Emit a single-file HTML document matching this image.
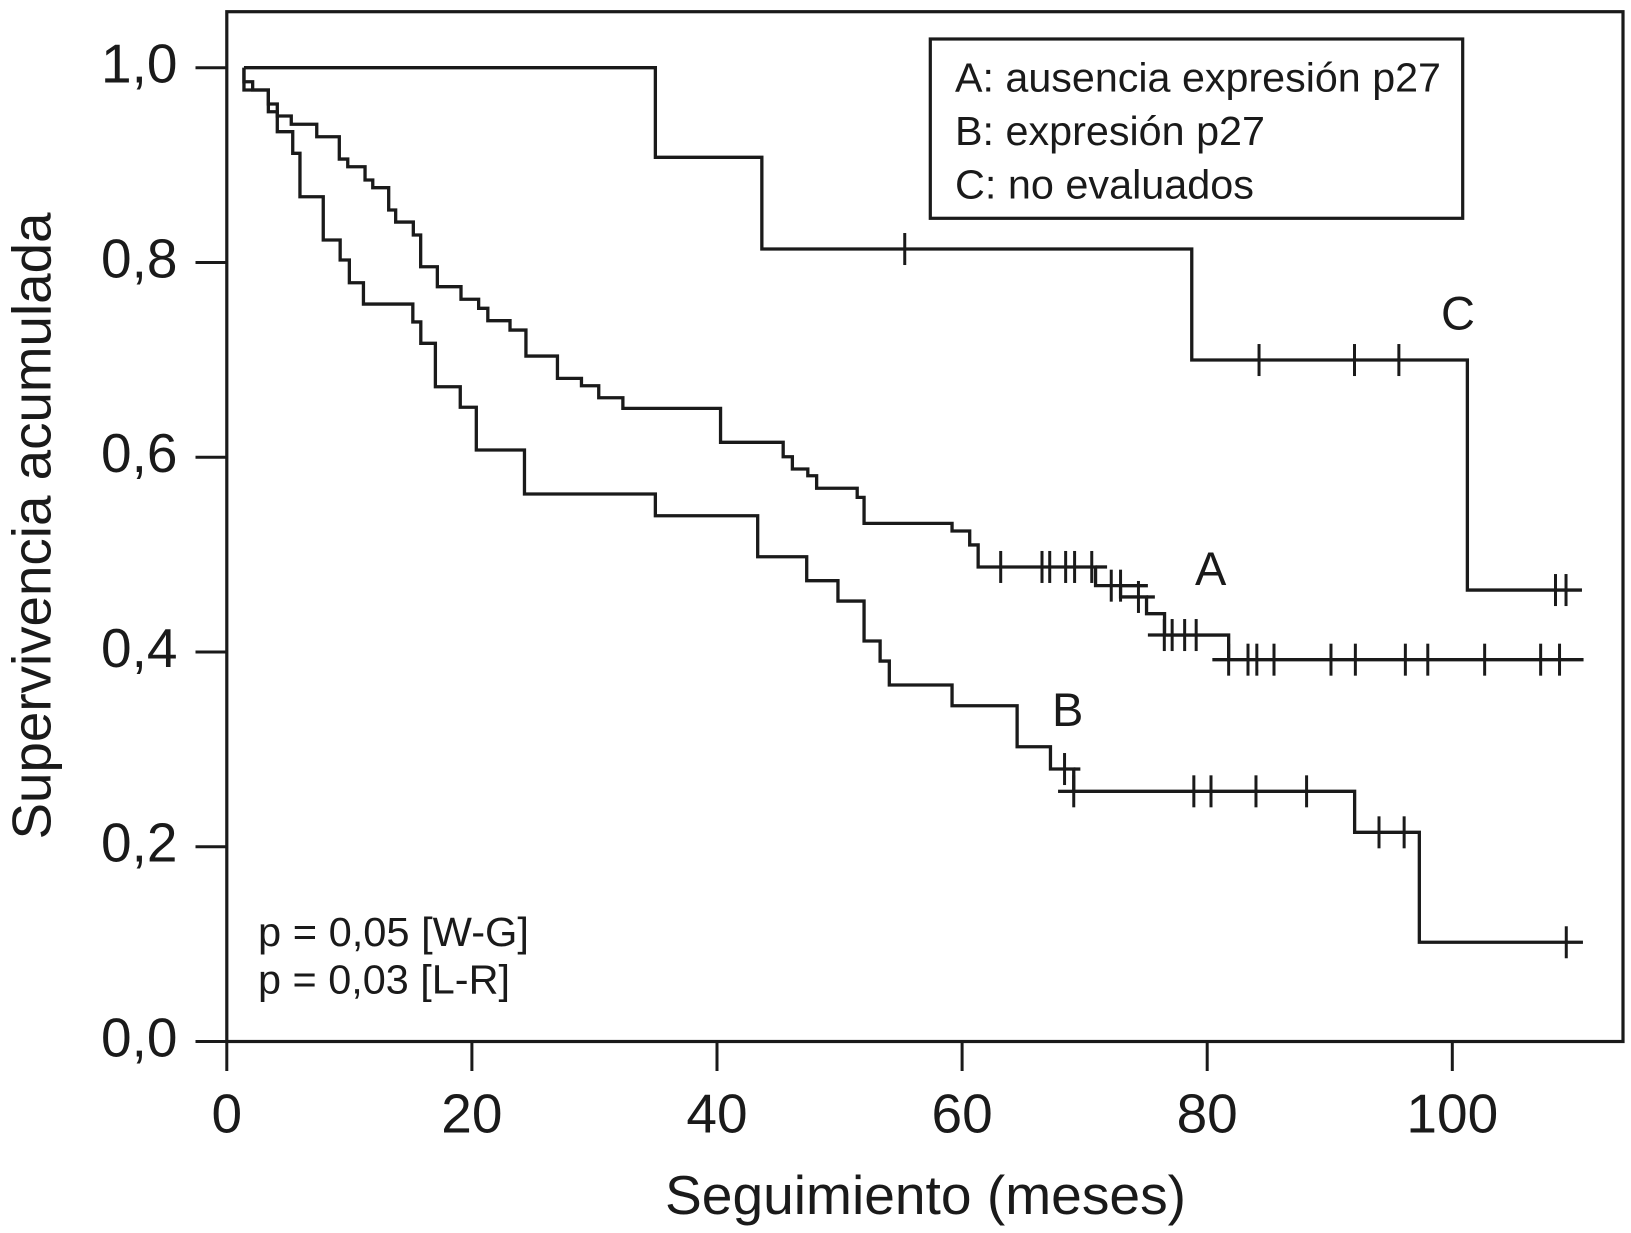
<!DOCTYPE html>
<html lang="es">
<head>
<meta charset="utf-8">
<title>Supervivencia acumulada</title>
<style>
html,body{margin:0;padding:0;background:#fff;}
svg{display:block;}
text{font-family:"Liberation Sans",Arial,sans-serif;fill:#1a1a1a;}
</style>
</head>
<body>
<svg id="chart" xmlns="http://www.w3.org/2000/svg" width="1631" height="1233" viewBox="0 0 1631 1233">
  <rect x="0" y="0" width="1631" height="1233" fill="#ffffff"/>
  <rect x="226.8" y="11.7" width="1396.2" height="1029.8" fill="none" stroke="#1a1a1a" stroke-width="3.2"/>
  <g id="axes"></g>
  <g id="series"></g>
  <text transform="translate(50.7,839.5) rotate(-90)" font-size="55" textLength="627" lengthAdjust="spacingAndGlyphs">Supervivencia acumulada</text>
  <text x="665" y="1214" font-size="55" textLength="521" lengthAdjust="spacingAndGlyphs">Seguimiento (meses)</text>
  <g>
    <rect x="930.3" y="39" width="532.4" height="179.3" fill="#fff" stroke="#1a1a1a" stroke-width="3.2"/>
    <text x="955" y="91.7" font-size="41" textLength="486" lengthAdjust="spacingAndGlyphs">A: ausencia expresión p27</text>
    <text x="955" y="145" font-size="41" textLength="310" lengthAdjust="spacingAndGlyphs">B: expresión p27</text>
    <text x="955" y="198.3" font-size="41" textLength="299" lengthAdjust="spacingAndGlyphs">C: no evaluados</text>
  </g>
  <text x="258" y="946" font-size="41" textLength="271" lengthAdjust="spacingAndGlyphs">p = 0,05 [W-G]</text>
  <text x="258" y="993.7" font-size="41" textLength="252" lengthAdjust="spacingAndGlyphs">p = 0,03 [L-R]</text>
  <text x="1195" y="585" font-size="47">A</text>
  <text x="1052" y="726" font-size="47">B</text>
  <text x="1441" y="329.3" font-size="47">C</text>
</svg>
<script>
// ---- chart data (months, cumulative survival) ----
const xTicks = [0, 20, 40, 60, 80, 100];
const yTicks = [0.0, 0.2, 0.4, 0.6, 0.8, 1.0];
const yTickLabels = ['0,0', '0,2', '0,4', '0,6', '0,8', '1,0'];

const timesA = [1.40,2.11,3.39,4.12,5.26,7.34,9.18,9.87,11.28,11.91,13.21,13.78,15.22,15.82,17.18,19.11,20.55,21.30,23.11,24.41,26.98,28.94,30.35,32.32,40.29,45.40,46.15,47.41,48.13,51.44,52.00,59.18,60.62,61.31,70.89,72.93,75.05,76.52,81.75];
const levelsA = [0.9856,0.9771,0.9627,0.9504,0.9419,0.9291,0.9062,0.8983,0.8847,0.8768,0.8539,0.8415,0.8282,0.7956,0.7751,0.7622,0.7529,0.7402,0.7306,0.7039,0.6810,0.6734,0.6611,0.6502,0.6153,0.6005,0.5879,0.5810,0.5681,0.5588,0.5321,0.5242,0.5099,0.4873,0.4681,0.4565,0.4393,0.4174,0.3921];
const endA = 110.71;
const censorTimesA = [63.15,66.52,67.15,68.45,69.18,70.58,72.17,72.93,74.39,76.50,77.14,78.16,79.10,81.75,83.33,84.05,85.45,90.10,92.09,96.17,98.00,102.64,107.21,108.75];
const censorLevelsA = [0.4873,0.4873,0.4873,0.4873,0.4873,0.4873,0.4681,0.4681,0.4565,0.4174,0.4174,0.4174,0.4174,0.3921,0.3921,0.3921,0.3921,0.3921,0.3921,0.3921,0.3921,0.3921,0.3921,0.3921];
const stubFromA = [70.89,72.93,75.05,75.16,80.42];
const stubToA = [71.83,75.16,75.73,76.52,81.75];
const stubLevelsA = [0.4873,0.4681,0.4565,0.4174,0.3921];

const timesB = [1.40,3.39,4.12,5.38,5.97,7.87,9.25,10.00,11.15,15.18,15.83,17.02,19.05,20.36,24.29,34.97,43.32,47.32,49.87,52.00,53.31,54.06,59.18,64.49,67.21,69.11,92.03,97.31];
const levelsB = [0.9771,0.9548,0.9343,0.9121,0.8675,0.8231,0.8025,0.7792,0.7573,0.7389,0.7170,0.6724,0.6513,0.6074,0.5622,0.5399,0.4978,0.4732,0.4523,0.4113,0.3907,0.3661,0.3448,0.3027,0.2798,0.2569,0.2148,0.1019];
const endB = 110.66;
const censorTimesB = [68.36,69.11,78.91,80.31,83.98,88.11,94.02,96.07,109.30];
const censorLevelsB = [0.2798,0.2569,0.2569,0.2569,0.2569,0.2569,0.2148,0.2148,0.1019];
const stubFromB = [69.11,67.83];
const stubToB = [69.65,69.11];
const stubLevelsB = [0.2798,0.2569];

const timesC = [34.97,43.66,78.74,101.23];
const levelsC = [0.9080,0.8138,0.6998,0.4636];
const startC = 1.40;
const endC = 110.58;
const censorTimesC = [55.32,84.23,92.02,95.64,108.42,109.28];
const censorLevelsC = [0.8138,0.6998,0.6998,0.6998,0.4636,0.4636];

// ---- axis functions ----
function xScale(m) { return 226.8 + 12.255 * m; }
function yScale(s) { return 1041.5 - 973.8 * s; }

const SVGNS = 'http://www.w3.org/2000/svg';
const INK = '#1a1a1a';
const axesG = document.getElementById('axes');
const seriesG = document.getElementById('series');

function line(parent, x1, y1, x2, y2, width) {
  const l = document.createElementNS(SVGNS, 'line');
  l.setAttribute('x1', x1);
  l.setAttribute('y1', y1);
  l.setAttribute('x2', x2);
  l.setAttribute('y2', y2);
  l.setAttribute('stroke', INK);
  l.setAttribute('stroke-width', width);
  parent.appendChild(l);
  return l;
}

xTicks.forEach(function (t) {
  const tick = line(axesG, xScale(t), yScale(0), xScale(t), yScale(0) + 29.5, 3);
  
  
  const label = document.createElementNS(SVGNS, 'text');
  
  
  label.setAttribute('x', xScale(t));
  label.setAttribute('y', 1132.7);
  label.setAttribute('font-size', 55);
  label.setAttribute('text-anchor', 'middle');
  label.textContent = String(t);
  axesG.appendChild(label);
});

yTicks.forEach(function (t, i) {
  const tick = line(axesG, xScale(0) - 31.3, yScale(t), xScale(0), yScale(t), 3);
  
  
  const label = document.createElementNS(SVGNS, 'text');
  
  
  label.setAttribute('x', 177.5);
  label.setAttribute('y', yScale(t) + 15);
  label.setAttribute('font-size', 55);
  label.setAttribute('text-anchor', 'end');
  label.textContent = yTickLabels[i];
  axesG.appendChild(label);
});

function stepPath(start, times, levels, end) {
  let d = 'M' + xScale(start).toFixed(2) + ' ' + yScale(1).toFixed(2);
  let level = 1;
  times.forEach(function (t, i) {
    d += 'L' + xScale(t).toFixed(2) + ' ' + yScale(level).toFixed(2);
    level = levels[i];
    d += 'L' + xScale(t).toFixed(2) + ' ' + yScale(level).toFixed(2);
  });
  d += 'L' + xScale(end).toFixed(2) + ' ' + yScale(level).toFixed(2);
  return d;
}

function drawCurve(letter, start, times, levels, end, cTimes, cLevels, sFrom, sTo, sLevels) {
  const g = document.createElementNS(SVGNS, 'g');
  
  
  seriesG.appendChild(g);

  const p = document.createElementNS(SVGNS, 'path');
  
  
  p.setAttribute('d', stepPath(start, times, levels, end));
  p.setAttribute('fill', 'none');
  p.setAttribute('stroke', INK);
  p.setAttribute('stroke-width', 3.3);
  p.setAttribute('stroke-linejoin', 'miter');
  g.appendChild(p);

  sFrom.forEach(function (from, i) {
    const s = line(g, xScale(from), yScale(sLevels[i]), xScale(sTo[i]), yScale(sLevels[i]), 3.3);
    
    
  });

  cTimes.forEach(function (t, i) {
    const c = line(g, xScale(t), yScale(cLevels[i]) - 16, xScale(t), yScale(cLevels[i]) + 16, 3);
    
    
  });
}

drawCurve('a', timesA[0], timesA, levelsA, endA, censorTimesA, censorLevelsA, stubFromA, stubToA, stubLevelsA);
drawCurve('b', timesB[0], timesB, levelsB, endB, censorTimesB, censorLevelsB, stubFromB, stubToB, stubLevelsB);
drawCurve('c', startC, timesC, levelsC, endC, censorTimesC, censorLevelsC, [], [], []);
</script>
</body>
</html>
